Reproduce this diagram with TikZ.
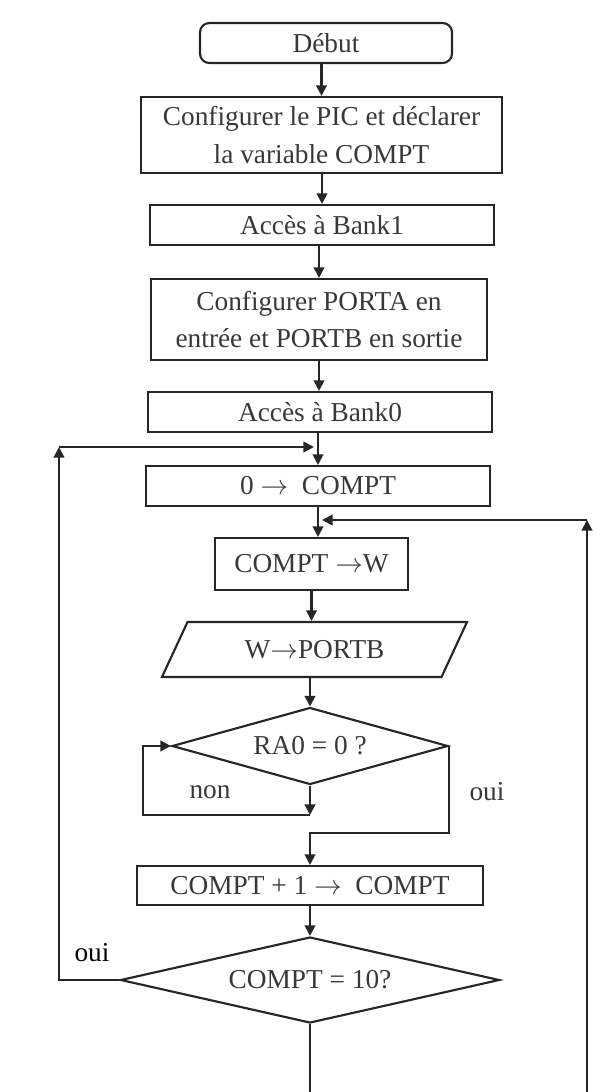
\documentclass[tikz,border=0pt]{standalone}
\usepackage{fontspec}
\setmainfont{Liberation Serif}
\usetikzlibrary{shapes.geometric,arrows.meta,calc}
\def\u{0.75pt}
\newcommand{\rar}{\ensuremath{\rightarrow}}
\begin{document}
\begin{tikzpicture}[x=0.75pt,y=-0.75pt,
  every node/.style={text=black!78, font=\fontsize{20.5}{28}\selectfont},
  box/.style={draw=black!85, line width=1.6pt, inner sep=0pt, align=center},
  dia/.style={draw=black!85, line width=1.6pt, inner sep=0pt, shape=diamond},
  para/.style={draw=black!85, line width=1.6pt, inner sep=0pt, shape=trapezium,
    trapezium left angle=36, trapezium right angle=144, trapezium stretches body},
  ln/.style={draw=black!85, line width=1.6pt},
  arr/.style={ln, -{Triangle[length=8pt,width=8pt]}}]
\useasboundingbox (0,0) rectangle (600,1092);
\node[box, rounded corners=7pt, minimum width={252*\u}, minimum height={40*\u}] (debut) at (326,43) {Début};
\node[box, minimum width={361*\u}, minimum height={76*\u}] (cfg) at (321.5,135) {Configurer le PIC et déclarer\\la variable COMPT};
\node[box, minimum width={344*\u}, minimum height={40*\u}] (bank1) at (322,225) {Accès à Bank1};
\node[box, minimum width={336*\u}, minimum height={81*\u}] (porta) at (319,319.5) {Configurer PORTA en\\entrée et PORTB en sortie};
\node[box, minimum width={344*\u}, minimum height={40*\u}] (bank0) at (320,412) {Accès à Bank0};
\node[box, minimum width={344*\u}, minimum height={40*\u}] (zero) at (318,486) {0 \rar~ COMPT};
\node[box, minimum width={193*\u}, minimum height={52*\u}] (cw) at (311.5,564) {COMPT \rar W};
\node[para, minimum width={305*\u}, minimum height={55*\u}] (pb) at (314.5,649.5) {W\rar PORTB};
\node[dia, aspect=3.58, minimum width={276*\u}, minimum height={77*\u}] (d1) at (310,746) {RA0 = 0 ?};
\node[box, minimum width={346*\u}, minimum height={39*\u}] (inc) at (310,885.5) {COMPT + 1 \rar~ COMPT};
\node[dia, aspect=4.4, minimum width={379*\u}, minimum height={86*\u}] (d2) at (310,980) {COMPT = 10?};
\node (non) at (210,792) {non};
\node (oui1) at (487,792) {oui};
\node[text=black] (oui2) at (92,953) {oui};
\coordinate (nonc) at (143,815);
\coordinate (ouic) at (448,833);
\coordinate (lc) at (59,447);
\coordinate (rc) at (587,520);
\coordinate (rb) at (587,1092);
\coordinate (bot) at (0,1092);
\draw[arr] (cfg.north |- debut.south) -- (cfg.north);
\draw[arr] (bank1.north |- cfg.south) -- (bank1.north);
\draw[arr] (porta.north |- bank1.south) -- (porta.north);
\draw[arr] (porta.south) -- (porta.south |- bank0.north);
\draw[arr] (zero.north |- bank0.south) -- (zero.north);
\draw[arr] (zero.south) -- (zero.south |- cw.north);
\draw[arr] (cw.south) -- (cw.south |- pb.north);
\draw[arr] (d1.north |- pb.south) -- (d1.north);
\draw[arr] (d1.south) -- (d1.south |- nonc);
\draw[arr] (d1.south |- nonc) -- (nonc) |- (d1.west);
\draw[arr] (d1.east) -- (d1.east |- ouic) -| (inc.north);
\draw[arr] (inc.south) -- (d2.north);
\draw[arr] (d2.west) -| (lc);
\draw[arr] (lc) -- ($(zero.north |- lc)+(-4,0)$);
\draw[ln] (d2.south) -- (d2.south |- bot);
\draw[arr] (rb) -- (rc);
\draw[arr] (rc) -- ($(zero.south |- rc)+(4,0)$);
\end{tikzpicture}
\end{document}
